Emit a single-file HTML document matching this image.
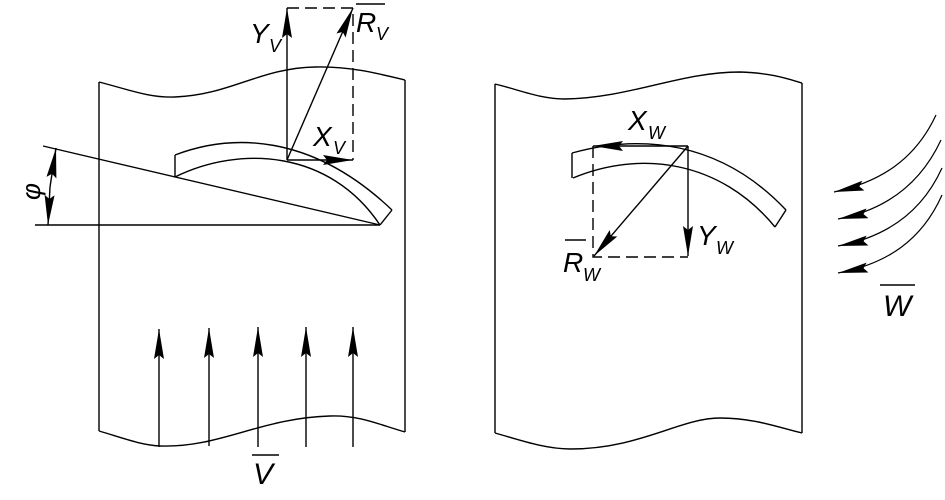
<!DOCTYPE html>
<html><head><meta charset="utf-8"><style>
html,body{margin:0;padding:0;background:#fff}
svg{display:block}
text{font-family:"Liberation Sans",sans-serif;font-style:italic;fill:#000}
</style></head><body>
<svg width="945" height="500" viewBox="0 0 945 500" xmlns="http://www.w3.org/2000/svg">
<defs>
<marker id="a" viewBox="0 0 30 12" refX="30" refY="6" markerWidth="30" markerHeight="12" markerUnits="userSpaceOnUse" orient="auto">
<path d="M0,1 L30,6 L0,11 L4,6 Z" fill="#000"/></marker>
</defs>
<g fill="none" stroke="#000" stroke-width="1.4">
<path d="M99,82 C130,90 150,98 175,97 C230,95 260,68 315,67 C350,66 380,74 405,80"/>
<path d="M99,82 V431 M405,80 V432"/>
<path d="M99,431 C120,437 140,445 160,446 C220,448 260,418 330,416 C360,415 380,425 405,432"/>
<g marker-end="url(#a)">
<path d="M159,447 V329"/><path d="M209,446 V328"/><path d="M258,447 V327"/><path d="M306,447 V327"/><path d="M353,447 V327"/>
</g>
<path d="M252,455 H279"/>
<path d="M35,225 H380"/>
<path d="M43,146 L380,225"/>
<path d="M175,155 V177"/>
<path d="M175,155 C230,134 310,132 392,210"/>
<path d="M175,177 C240,145 330,150 380,225"/>
<path d="M392,210 L380,225"/>
<path d="M50,187 L56,148" marker-end="url(#a)"/>
<path d="M50,187 L48,225" marker-end="url(#a)"/>
<path d="M287,160 V8" marker-end="url(#a)"/>
<path d="M287,160 H353" marker-end="url(#a)"/>
<path d="M287,160 L353,8" marker-end="url(#a)"/>
<path d="M287,8 H353 V160" stroke-dasharray="12,6"/>
<path d="M356,4 H385"/>
<path d="M495,84 C520,90 540,99 565,99 C630,98 680,72 740,72 C770,73 785,78 802,83"/>
<path d="M495,84 V433 M802,83 V433"/>
<path d="M495,433 C520,440 545,449 570,449 C640,449 680,418 720,418 C755,418 780,428 802,433"/>
<path d="M572,153 V178"/>
<path d="M572,153 C640,134 720,140 786,210"/>
<path d="M573,178 C640,150 720,160 775,227"/>
<path d="M786,210 L775,227"/>
<path d="M688,146 H593" marker-end="url(#a)"/>
<path d="M688,146 V256" marker-end="url(#a)"/>
<path d="M688,146 L594,256" marker-end="url(#a)"/>
<path d="M593,146 V257 H688" stroke-dasharray="12,6"/>
<path d="M565,240 H586"/>
<g marker-end="url(#a)" stroke-width="1.2">
<path d="M936,115 C915,160 880,182 834,192"/>
<path d="M941,140 C920,185 885,210 838,219"/>
<path d="M942,168 C922,212 887,237 838,246"/>
<path d="M942,195 C922,240 887,264 838,273"/>
</g>
<path d="M880,285 H915"/>
</g>
<text x="250" y="43" font-size="28">Y</text><text x="269" y="52" font-size="18">V</text>
<text x="356" y="32" font-size="28">R</text><text x="376" y="40" font-size="18">V</text>
<text x="313" y="146" font-size="28">X</text><text x="333" y="154" font-size="18">V</text>
<text x="253" y="484" font-size="30">V</text>
<text x="22" y="198" font-size="26" transform="rotate(-90 32 190)">φ</text>
<text x="628" y="130" font-size="28">X</text><text x="648" y="139" font-size="18">W</text>
<text x="697" y="245" font-size="28">Y</text><text x="716" y="254" font-size="18">W</text>
<text x="563" y="272" font-size="28">R</text><text x="583" y="281" font-size="18">W</text>
<text x="883" y="316" font-size="30">W</text>
</svg>
</body></html>
